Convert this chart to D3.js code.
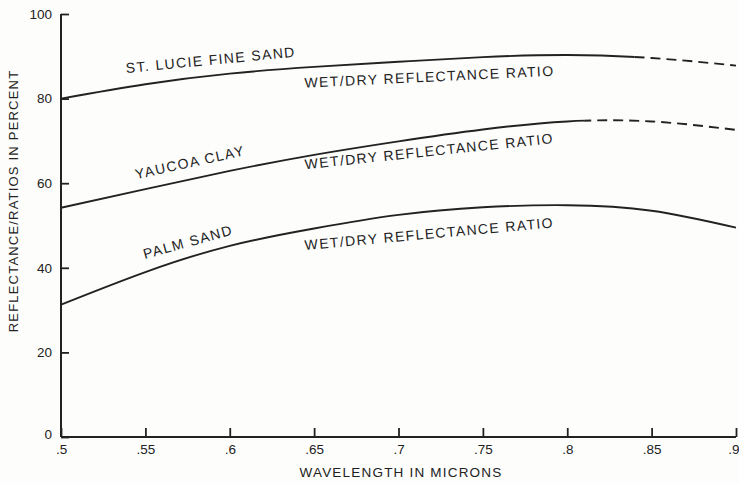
<!DOCTYPE html>
<html>
<head>
<meta charset="utf-8">
<script src="https://cdn.jsdelivr.net/npm/d3@7"></script>
<style>
  html, body { margin: 0; padding: 0; background: #fdfdfc; }
  svg { display: block; }
  text { font-family: "Liberation Sans", Arial, Helvetica, sans-serif; fill: #222; }
</style>
</head>
<body>
<svg id="chart" width="739" height="483"></svg>
<script>
// Wavelength samples (microns) and wet/dry reflectance ratios (%)
const wavelengths = [0.50, 0.55, 0.60, 0.65, 0.70, 0.75, 0.80, 0.85, 0.90];
const stLucieFineSand = [80.0, 83.4, 85.9, 87.5, 88.7, 89.8, 90.3, 89.6, 87.8];
const yaucoaClay      = [54.2, 58.6, 62.9, 66.7, 69.9, 72.7, 74.6, 74.6, 72.6];
const palmSand        = [31.3, 39.0, 45.2, 49.3, 52.5, 54.3, 54.8, 53.5, 49.5];

const seriesNames = ["ST. LUCIE FINE SAND", "YAUCOA CLAY", "PALM SAND"];
// wavelength beyond which each curve is drawn dashed (null = solid throughout)
const dashedFrom = [0.84, 0.81, null];
const ratioLabel = "WET/DRY REFLECTANCE RATIO";

const xTickValues = [0.5, 0.55, 0.6, 0.65, 0.7, 0.75, 0.8, 0.85, 0.9];
const xTickLabels = [".5", ".55", ".6", ".65", ".7", ".75", ".8", ".85", ".9"];
const yTickValues = [0, 20, 40, 60, 80, 100];
const xTitle = "WAVELENGTH IN MICRONS";
const yTitle = "REFLECTANCE/RATIOS IN PERCENT";

const svg = d3.select("#chart");
const x = d3.scaleLinear().domain([0.5, 0.9]).range([61, 736]);
const y = d3.scaleLinear().domain([0, 100]).range([437, 14]);

const ink = "#222";

// Axes with ticks pointing into the plot
const yAxis = svg.append("g").attr("transform", `translate(${x(0.5)},0)`)
  .call(d3.axisLeft(y).tickValues(yTickValues).tickSize(-8).tickPadding(9).tickFormat(d3.format("d")));
const xAxis = svg.append("g").attr("transform", `translate(0,${y(0)})`)
  .call(d3.axisBottom(x).tickValues(xTickValues).tickSize(-9).tickPadding(7)
    .tickFormat((d, i) => xTickLabels[i]));

[yAxis, xAxis].forEach(g => {
  g.select(".domain").attr("stroke", ink).attr("stroke-width", 2);
  g.selectAll(".tick line").attr("stroke", ink).attr("stroke-width", 1.8);
  g.selectAll(".tick text").style("font-size", "13.5px").attr("fill", ink);
});
yAxis.select(".domain").attr("d", `M0,${y(100)}V${y(0)}`);
xAxis.select(".domain").attr("d", `M${x(0.5)},0H${x(0.9)}`);
yAxis.selectAll(".tick").filter(d => d === 0).select("text").attr("dy", "0.1em");
// last wavelength label sits at the right edge
xAxis.selectAll(".tick").filter(d => d === 0.9).select("text")
  .attr("text-anchor", "end").attr("dx", "3px");

// Axis titles
svg.append("text")
  .attr("x", 401).attr("y", 477)
  .attr("text-anchor", "middle")
  .style("font-size", "13.5px").style("letter-spacing", "1.2px")
  .text(xTitle);
svg.append("text")
  .attr("transform", `translate(18,${201}) rotate(-90)`)
  .attr("text-anchor", "middle")
  .style("font-size", "13px").style("letter-spacing", "1.2px")
  .text(yTitle);

// Curves: solid part and dashed continuation via clipping at the switch wavelength
const defs = svg.append("defs");
const line = d3.line()
  .x(d => x(d[0]))
  .y(d => y(d[1]))
  .curve(d3.curveNatural);

[stLucieFineSand, yaucoaClay, palmSand].forEach((vals, i) => {
  const pts = wavelengths.map((w, j) => [w, vals[j]]);
  const cut = dashedFrom[i] == null ? x(0.9) + 10 : x(dashedFrom[i]);
  defs.append("clipPath").attr("id", `solid${i}`)
    .append("rect").attr("x", 0).attr("y", 0).attr("width", cut).attr("height", 483);
  defs.append("clipPath").attr("id", `dash${i}`)
    .append("rect").attr("x", cut).attr("y", 0).attr("width", 739 - cut).attr("height", 483);
  svg.append("path").attr("d", line(pts))
    .attr("fill", "none").attr("stroke", ink).attr("stroke-width", 1.9)
    .attr("clip-path", `url(#solid${i})`);
  if (dashedFrom[i] != null) {
    svg.append("path").attr("d", line(pts))
      .attr("fill", "none").attr("stroke", ink).attr("stroke-width", 1.9)
      .attr("stroke-dasharray", "10 6")
      .attr("clip-path", `url(#dash${i})`);
  }
});

// Curve labels: [wavelength, percent, angle]
const nameSpots = [[0.589, 88.0, -5.5], [0.577, 63.8, -12.5], [0.576, 45.0, -15.5]];
const ratioSpots = [[0.7185, 84.0, -2.8], [0.7185, 66.4, -6.0], [0.7185, 46.9, -5.2]];

seriesNames.forEach((name, i) => {
  const [w, v, a] = nameSpots[i];
  svg.append("text")
    .attr("transform", `translate(${x(w)},${y(v)}) rotate(${a})`)
    .attr("text-anchor", "middle")
    .style("font-size", "14px").style("letter-spacing", "1.4px")
    .text(name);
  const [w2, v2, a2] = ratioSpots[i];
  svg.append("text")
    .attr("transform", `translate(${x(w2)},${y(v2)}) rotate(${a2})`)
    .attr("text-anchor", "middle")
    .style("font-size", "14px").style("letter-spacing", "1.4px")
    .text(ratioLabel);
});
</script>
</body>
</html>
